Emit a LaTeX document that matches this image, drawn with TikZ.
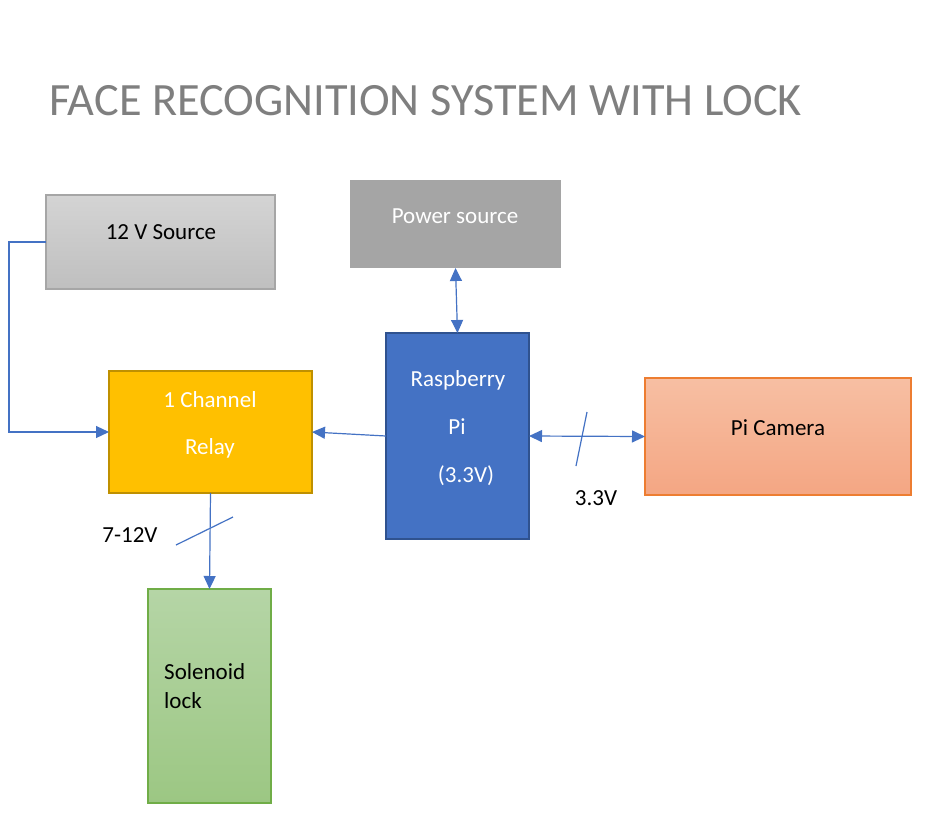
\documentclass[tikz,border=0pt]{standalone}
\usepackage{fontspec}
\setmainfont{Carlito}
\usetikzlibrary{arrows.meta}
\definecolor{conn}{HTML}{4472C4}
\definecolor{pigray}{HTML}{A5A5A5}
\definecolor{pib}{HTML}{4472C4}
\definecolor{pibd}{HTML}{2F528F}
\definecolor{rel}{HTML}{FFC000}
\definecolor{reld}{HTML}{BF9000}
\definecolor{camt}{HTML}{F7BFA3}
\definecolor{camb}{HTML}{F4A683}
\definecolor{camd}{HTML}{ED7D31}
\definecolor{solt}{HTML}{B5D5A6}
\definecolor{solb}{HTML}{9CC783}
\definecolor{sold}{HTML}{70AD47}
\definecolor{srct}{HTML}{D4D4D4}
\definecolor{srcb}{HTML}{BFBFBF}
\definecolor{srcd}{HTML}{A6A6A6}
\definecolor{titlec}{HTML}{7F7F7F}
\begin{document}
\begin{tikzpicture}[x=1pt,y=-1pt,
  box/.style={rectangle,inner sep=0pt,outer sep=0pt,line width=1.2pt},
  txt/.style={font=\fontsize{23}{27}\selectfont,inner sep=0pt},
  wtxt/.style={txt,text=white},
  conline/.style={draw=conn,line width=1.2pt},
  tip/.style={-{Triangle[length=13pt,width=12pt]}},
  tips/.style={{Triangle[length=13pt,width=12pt]}-{Triangle[length=13pt,width=12pt]}}]
\useasboundingbox[fill=white] (0,0) rectangle (937,828);
\node[inner sep=0pt,text=titlec,font=\fontsize{46.3}{54}\selectfont,anchor=west] (title) at (49,101) {FACE RECOGNITION SYSTEM WITH LOCK};
% boxes
\node[box,draw=srcd,top color=srct,bottom color=srcb,minimum width=229pt,minimum height=94pt] (src) at (160.5,242) {};
\node[box,draw=none,fill=pigray,minimum width=211pt,minimum height=88pt] (ps) at (455.5,224) {};
\node[box,draw=pibd,fill=pib,minimum width=143pt,minimum height=206pt] (pi) at (457.5,436) {};
\node[box,draw=reld,fill=rel,minimum width=203pt,minimum height=122pt] (relay) at (210.5,432) {};
\node[box,draw=camd,top color=camt,bottom color=camb,minimum width=266pt,minimum height=117pt] (cam) at (778,436.5) {};
\node[box,draw=sold,top color=solt,bottom color=solb,minimum width=123pt,minimum height=214pt] (sol) at (209.5,696) {};
% texts
\node[txt] (srct) at (161,232) {12 V Source};
\node[wtxt] (pst) at (455,216) {Power source};
\node[wtxt] (pit1) at (458,380) {Raspberry};
\node[wtxt] (pit2) at (457,427) {Pi};
\node[wtxt] (pit3) at (466,476) {(3.3V)};
\node[wtxt] (relt1) at (210,400) {1 Channel};
\node[wtxt] (relt2) at (210,448) {Relay};
\node[txt] (camt) at (778,428) {Pi Camera};
\node[txt,anchor=west] (solt1) at (164,672) {Solenoid};
\node[txt,anchor=west] (solt2) at (164,701) {lock};
\node[txt] (lab1) at (130,535) {7-12V};
\node[txt] (lab2) at (596,498) {3.3V};
% connectors
\coordinate (bend) at (9,242);
\draw[conline,tip] (src.west) -- (bend) |- (relay.west);
\draw[conline,tip] (pi.west) -- (relay.east);
\draw[conline,tips] (ps.south) -- (pi.north);
\draw[conline,tips] (pi.east) -- (cam.west);
\draw[conline,tip] (relay.south) -- (sol.north);
% slash marks
\coordinate (s1a) at (587,412);
\coordinate (s1b) at (576,466);
\coordinate (s2a) at (233,517);
\coordinate (s2b) at (176,545);
\draw[conline] (s1a) -- (s1b);
\draw[conline] (s2a) -- (s2b);
\end{tikzpicture}
\end{document}
